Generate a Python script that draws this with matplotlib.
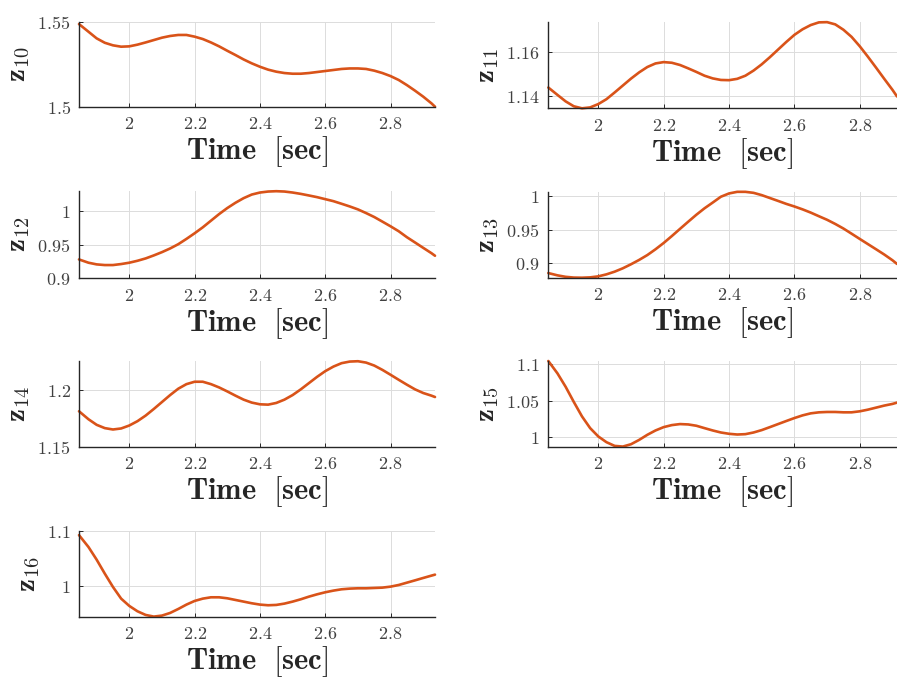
"""plot.py -- z10..z16 time histories, MATLAB-style 4x2 grid of small panels."""
import matplotlib as mpl
mpl.use("Agg")
import matplotlib.pyplot as plt
from matplotlib.ticker import FuncFormatter

# sample times (left column runs to 2.936, right column is cut at 2.914)
T_LEFT = [1.846, 1.875, 1.9, 1.925, 1.95, 1.975,
          2.0, 2.025, 2.05, 2.075, 2.1, 2.125, 2.15, 2.175,
          2.2, 2.225, 2.25, 2.275, 2.3, 2.325, 2.35, 2.375,
          2.4, 2.425, 2.45, 2.475, 2.5, 2.525, 2.55, 2.575,
          2.6, 2.625, 2.65, 2.675, 2.7, 2.725, 2.75, 2.775,
          2.8, 2.825, 2.85, 2.875, 2.9, 2.925, 2.936]
T_RIGHT = [1.847, 1.875, 1.9, 1.925, 1.95, 1.975,
           2.0, 2.025, 2.05, 2.075, 2.1, 2.125, 2.15, 2.175,
           2.2, 2.225, 2.25, 2.275, 2.3, 2.325, 2.35, 2.375,
           2.4, 2.425, 2.45, 2.475, 2.5, 2.525, 2.55, 2.575,
           2.6, 2.625, 2.65, 2.675, 2.7, 2.725, 2.75, 2.775,
           2.8, 2.825, 2.85, 2.875, 2.9, 2.914]

z10 = [1.5486, 1.5441, 1.5402, 1.5376, 1.5361, 1.5353,
       1.5355, 1.5365, 1.5378, 1.5392, 1.5406, 1.5416, 1.5422, 1.5422,
       1.5412, 1.5398, 1.5378, 1.5355, 1.5329, 1.5304, 1.5278, 1.5255,
       1.5235, 1.5218, 1.5206, 1.5198, 1.5194, 1.5194, 1.5198, 1.5204,
       1.5210, 1.5216, 1.5222, 1.5225, 1.5225, 1.5222, 1.5212, 1.5198,
       1.5180, 1.5157, 1.5127, 1.5094, 1.5059, 1.5020, 1.5000]
z11 = [1.1440, 1.1407, 1.1378, 1.1356, 1.1347, 1.1351,
       1.1366, 1.1388, 1.1418, 1.1449, 1.1480, 1.1508, 1.1532, 1.1548,
       1.1554, 1.1551, 1.1541, 1.1526, 1.1510, 1.1493, 1.1481, 1.1474,
       1.1473, 1.1479, 1.1493, 1.1516, 1.1544, 1.1576, 1.1610, 1.1644,
       1.1676, 1.1701, 1.1720, 1.1732, 1.1733, 1.1723, 1.1699, 1.1667,
       1.1625, 1.1578, 1.1529, 1.1479, 1.1430, 1.1400]
z12 = [0.9282, 0.9233, 0.9208, 0.9198, 0.9198, 0.9213,
       0.9233, 0.9262, 0.9297, 0.9342, 0.9391, 0.9446, 0.9510, 0.9589,
       0.9673, 0.9762, 0.9861, 0.9960, 1.0050, 1.0129, 1.0198, 1.0252,
       1.0282, 1.0297, 1.0302, 1.0297, 1.0282, 1.0262, 1.0238, 1.0213,
       1.0183, 1.0153, 1.0114, 1.0074, 1.0030, 0.9975, 0.9916, 0.9847,
       0.9777, 0.9703, 0.9614, 0.9535, 0.9455, 0.9376, 0.9337]
z13 = [0.8854, 0.8820, 0.8798, 0.8787, 0.8785, 0.8790,
       0.8805, 0.8835, 0.8875, 0.8925, 0.8985, 0.9050, 0.9122, 0.9208,
       0.9302, 0.9405, 0.9512, 0.9618, 0.9722, 0.9818, 0.9903, 0.9990,
       1.0039, 1.0063, 1.0063, 1.0048, 1.0014, 0.9971, 0.9928, 0.9884,
       0.9845, 0.9802, 0.9754, 0.9700, 0.9647, 0.9585, 0.9517, 0.9440,
       0.9362, 0.9285, 0.9208, 0.9130, 0.9045, 0.8990]
z14 = [1.1811, 1.1741, 1.1692, 1.1663, 1.1651, 1.1660,
       1.1686, 1.1724, 1.1773, 1.1831, 1.1892, 1.1953, 1.2009, 1.2049,
       1.2070, 1.2070, 1.2049, 1.2020, 1.1985, 1.1948, 1.1913, 1.1887,
       1.1872, 1.1869, 1.1884, 1.1913, 1.1953, 1.2003, 1.2058, 1.2113,
       1.2163, 1.2203, 1.2233, 1.2247, 1.2250, 1.2238, 1.2212, 1.2174,
       1.2131, 1.2087, 1.2044, 1.2003, 1.1971, 1.1948, 1.1936]
z15 = [1.1046, 1.0875, 1.0690, 1.0481, 1.0282, 1.0120,
       1.0005, 0.9926, 0.9875, 0.9866, 0.9898, 0.9958, 1.0028, 1.0088,
       1.0134, 1.0162, 1.0176, 1.0171, 1.0153, 1.0120, 1.0088, 1.0060,
       1.0042, 1.0032, 1.0037, 1.0060, 1.0093, 1.0134, 1.0176, 1.0218,
       1.0259, 1.0296, 1.0324, 1.0338, 1.0343, 1.0343, 1.0338, 1.0338,
       1.0352, 1.0375, 1.0403, 1.0431, 1.0454, 1.0472]
z16 = [1.0920, 1.0705, 1.0476, 1.0223, 0.9982, 0.9771,
       0.9639, 0.9542, 0.9476, 0.9446, 0.9464, 0.9512, 0.9584, 0.9663,
       0.9729, 0.9771, 0.9795, 0.9795, 0.9777, 0.9747, 0.9717, 0.9687,
       0.9663, 0.9651, 0.9657, 0.9681, 0.9717, 0.9759, 0.9807, 0.9849,
       0.9886, 0.9916, 0.9940, 0.9952, 0.9958, 0.9958, 0.9964, 0.9970,
       0.9988, 1.0018, 1.0060, 1.0102, 1.0145, 1.0187, 1.0205]

X_TICKS = [2, 2.2, 2.4, 2.6, 2.8]

# (name, series, time, yticks, ylim, pixel box left, top, right, bottom)
PANELS = [
    ("10", z10, T_LEFT, [1.5, 1.55], (1.5, 1.55), (79, 21.7, 435, 106.7)),
    ("11", z11, T_RIGHT, [1.14, 1.16], (1.1347, 1.1735), (548, 21.7, 897, 108.3)),
    ("12", z12, T_LEFT, [0.9, 0.95, 1], (0.9, 1.0305), (79, 191, 435, 278.3)),
    ("13", z13, T_RIGHT, [0.9, 0.95, 1], (0.8785, 1.0065), (548, 191.7, 897, 277.7)),
    ("14", z14, T_LEFT, [1.15, 1.2], (1.15, 1.2252), (79, 361, 435, 446.7)),
    ("15", z15, T_RIGHT, [1, 1.05, 1.1], (0.9864, 1.1046), (548, 361, 897, 446.7)),
    ("16", z16, T_LEFT, [1, 1.1], (0.9444, 1.1), (79, 530.7, 435, 616.7)),
]

W, H = 897, 678
LINE = "#D95319"
AXC = "#262626"

plt.rcParams["mathtext.fontset"] = "cm"
plt.rcParams["font.family"] = "serif"
plt.rcParams["font.serif"] = ["DejaVu Serif"]

fig = plt.figure(figsize=(W / 100, H / 100), dpi=100)
fmt = FuncFormatter(lambda v, p: f"${v:g}$")

for name, z, t, yt, yl, (l, tp, r, b) in PANELS:
    ax = fig.add_axes([l / W, 1 - b / H, (r - l) / W, (b - tp) / H])
    ax.plot(t, z, color=LINE, lw=1.9, solid_capstyle="round",
            solid_joinstyle="round", clip_on=False)
    ax.set_xlim(1.846, t[-1])
    ax.set_ylim(*yl)
    ax.set_xticks(X_TICKS)
    ax.set_yticks(yt)
    ax.xaxis.set_major_formatter(fmt)
    ax.yaxis.set_major_formatter(fmt)
    ax.grid(True, color="#dcdcdc", lw=0.7)
    ax.set_axisbelow(True)
    for s in ("top", "right"):
        ax.spines[s].set_visible(False)
    for s in ("left", "bottom"):
        ax.spines[s].set_color(AXC)
        ax.spines[s].set_linewidth(1.0)
    ax.tick_params(direction="in", length=3, width=0.7, color=AXC,
                   labelcolor="#404040", labelsize=13, pad=6)
    ax.set_xlabel(r"$\mathbf{Time}\ \ \mathbf{[sec]}$", fontsize=22,
                  color=AXC, labelpad=1)
    ax.set_ylabel(r"$\mathbf{z}_{\mathbf{" + name + "}}$", fontsize=21,
                  color=AXC, labelpad=4)

fig.savefig("out.png", dpi=100)
